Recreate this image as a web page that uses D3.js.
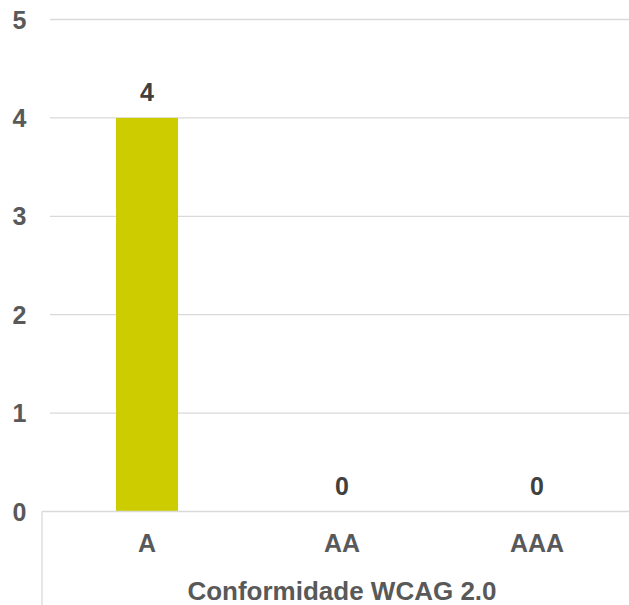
<!DOCTYPE html>
<html>
<head>
<meta charset="utf-8">
<script src="https://cdn.jsdelivr.net/npm/d3@7"></script>
<style>
body { margin: 0; background: #fff; }
text { font-family: 'Liberation Sans', Arial, sans-serif; font-weight: bold; fill: #595959; font-size: 25px; }
</style>
</head>
<body>
<script>
'use strict';

let categories = ['A', 'AA', 'AAA'];
let values = [4, 0, 0];
let yTicks = [0, 1, 2, 3, 4, 5];
let axisTitle = 'Conformidade WCAG 2.0';

let W = 629, H = 605;
let svg = d3.select('body').append('svg')
	.attr('width', W)
	.attr('height', H)
	;

let x = d3.scaleBand().domain(categories).range([49.5, 634.5]).paddingInner(0.682).paddingOuter(0.341);
let y = d3.scaleLinear().domain([0, 5]).range([511.5, 19.5]);

// gridlines
svg.append('g').selectAll('line')
	.data(yTicks.filter(d => d > 0))
	.join('line')
		.attr('x1', 50).attr('x2', W)
		.attr('y1', d => y(d)).attr('y2', d => y(d))
		.attr('stroke', '#d9d9d9').attr('stroke-width', 1.3)
	;

// y tick labels
svg.append('g').selectAll('text')
	.data(yTicks)
	.join('text')
		.attr('x', 26.5).attr('y', d => y(d) + 9)
		.attr('text-anchor', 'end')
		.text(d => d)
	;

// bars
svg.append('g').selectAll('rect')
	.data(values)
	.join('rect')
		.attr('x', (d, i) => x(categories[i]))
		.attr('width', x.bandwidth())
		.attr('y', d => y(d))
		.attr('height', d => y(0) - y(d))
		.attr('fill', '#cccc00')
	;

// value labels
svg.append('g').selectAll('text')
	.data(values)
	.join('text')
		.attr('x', (d, i) => x(categories[i]) + x.bandwidth()/2)
		.attr('y', d => y(d) - 17)
		.attr('text-anchor', 'middle')
		.style('fill', '#404040')
		.text(d => d)
	;

// category axis
svg.append('line')
	.attr('x1', 42).attr('x2', W).attr('y1', y(0)).attr('y2', y(0))
	.attr('stroke', '#d9d9d9').attr('stroke-width', 1.3);
svg.append('line')
	.attr('x1', 42).attr('x2', 42).attr('y1', y(0)).attr('y2', H)
	.attr('stroke', '#d9d9d9').attr('stroke-width', 1.3);

svg.append('g').selectAll('text')
	.data(categories)
	.join('text')
		.attr('x', d => x(d) + x.bandwidth()/2)
		.attr('y', 552)
		.attr('text-anchor', 'middle')
		.text(d => d)
	;

svg.append('text')
	.attr('x', 342).attr('y', 600)
	.attr('text-anchor', 'middle')
	.style('font-size', '26px')
	.text(axisTitle)
	;
</script>
</body>
</html>
